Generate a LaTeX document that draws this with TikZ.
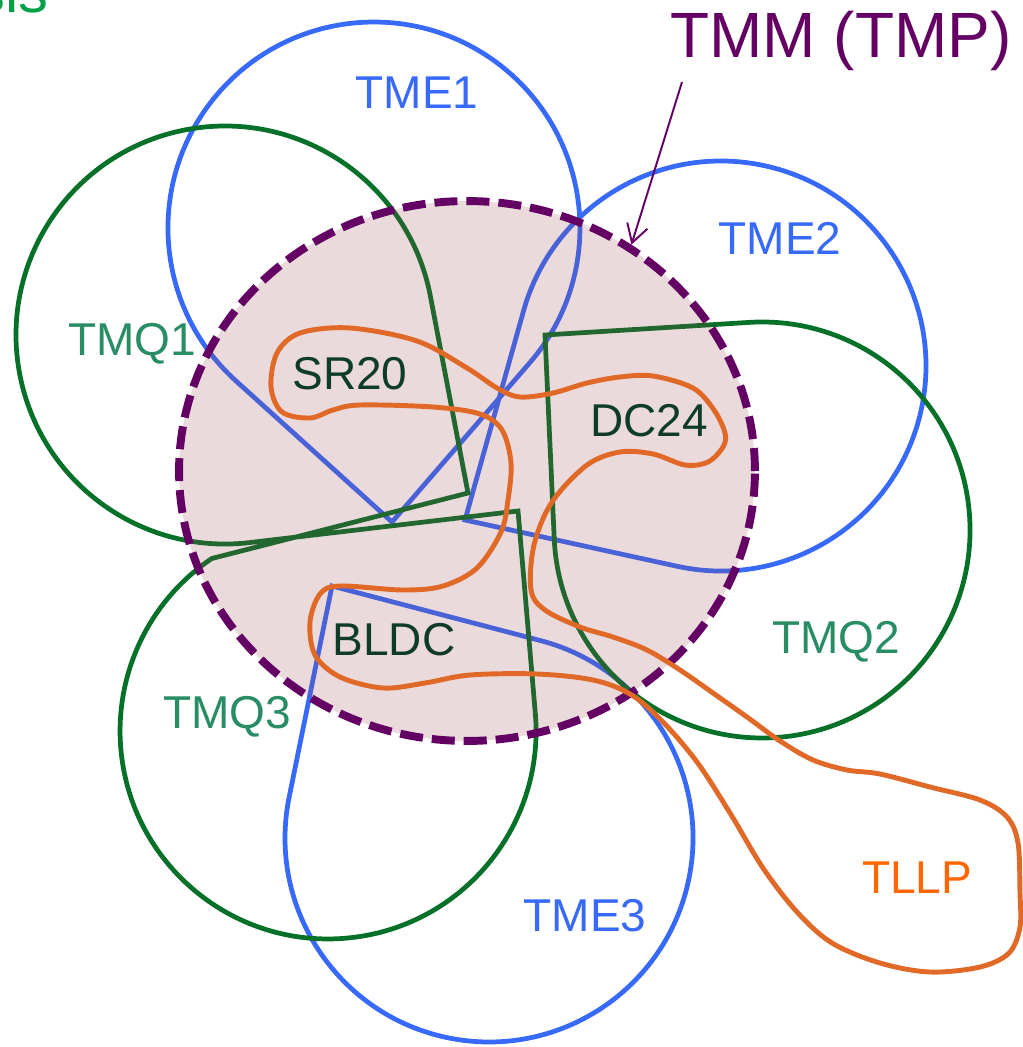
\documentclass[tikz,border=0pt]{standalone}
\usepackage{fontspec}
\setmainfont{Liberation Sans}
\usetikzlibrary{shapes.geometric,arrows.meta}

\definecolor{tmeblue}{RGB}{55,105,250}
\definecolor{tmqgreen}{RGB}{5,112,40}
\definecolor{tmqtext}{RGB}{40,140,100}
\definecolor{tllporange}{RGB}{225,105,40}
\definecolor{tllptext}{RGB}{255,102,0}
\definecolor{tmppurple}{RGB}{100,0,100}
\definecolor{tmpfill}{RGB}{150,70,75}
\definecolor{darklbl}{RGB}{15,60,40}
\definecolor{sisgreen}{RGB}{0,160,70}

\begin{document}
\begin{tikzpicture}[x=0.02cm,y=-0.02cm,
        tme/.style={draw=tmeblue,line width=2.7pt},
        tmq/.style={draw=tmqgreen,line width=2.7pt},
        lbl/.style={anchor=base,inner sep=0pt,font=\fontsize{26.2}{30}\selectfont},
        >={Straight Barb[length=0.36cm,width=0.42cm]}]
            \useasboundingbox (0,0) rectangle (1023,1047);

            \coordinate (E1) at (392,522);
            \coordinate (E2) at (465,520);
            \coordinate (E3) at (332,586);
            \coordinate (Q1) at (468,493);
            \coordinate (Q2) at (545,335);
            \coordinate (Q3) at (518,511);
            \coordinate (TMMtail) at (682,82);

            % blue drops
            \draw[tme] (E1) -- (235.8,380.8) arc[start angle=132.12,end angle=400.88,radius=206] -- cycle;
            \draw[tme] (E2) -- (677.3,566.3) arc[start angle=102.30,end angle=-164.36,radius=205] -- cycle;
            \draw[tme] (E3) -- (289.1,797.4) arc[start angle=191.47,end angle=-75.33,radius=204] -- cycle;

            % green drops
            \draw[tmq] (Q1) -- (430.3,295.8) arc[start angle=-10.82,end angle=-276.70,radius=209] -- (Q3)
                -- (535.3,713.3) arc[start angle=-4.87,end angle=236,radius=208] -- cycle;
            \draw[tmq] (Q2) -- (749.2,322.4) arc[start angle=-93.54,end angle=177.42,radius=208] -- cycle;

            \node[ellipse,draw=tmppurple,line width=4.5pt,dash pattern=on 0.46cm off 0.18cm,
                fill=tmpfill,fill opacity=0.2,minimum width=11.52cm,minimum height=10.8cm,inner sep=0pt] (TMP) at (467,471) {};

            % orange loop
            \draw[tllporange,line width=2.8pt] plot[smooth cycle,tension=0.55] coordinates {
                (553,393) (520,397) (497,388) (467,368) (417,341) (350,328) (300,333) (277,353)
                (271,387) (282,412) (310,418) (333,410) (360,405) (433,407) (480,414) (502,430)
                (511,463) (508,500) (501,532) (477,568) (443,586) (403,590) (340,586) (320,594)
                (310,622) (315,655) (340,677) (383,688) (425,683) (470,675) (537,674) (593,680)
                (630,694) (662,721) (697,762) (730,813) (763,868) (797,912) (832,943) (880,963)
                (930,972) (980,967) (1009,953) (1020,927) (1020,893) (1018,843) (1007,817) (980,800)
                (930,787) (880,774) (847,770) (813,760) (780,741) (747,717) (713,693) (680,670)
                (647,650) (613,637) (580,627) (545,610) (531,590) (534,545) (552,502) (587,465)
                (620,452) (653,454) (685,465) (708,462) (723,447) (725,433) (714,410) (693,388)
                (653,376) (620,377) (587,383)};

            \node[lbl,text=tmeblue] (TME1) at (417,109) {TME1};
            \node[lbl,text=tmeblue] (TME2) at (780,255) {TME2};
            \node[lbl,text=tmeblue] (TME3) at (585,931) {TME3};
            \node[lbl,text=tmqtext] (TMQ1) at (132,355) {TMQ1};
            \node[lbl,text=tmqtext] (TMQ2) at (836,653) {TMQ2};
            \node[lbl,text=tmqtext] (TMQ3) at (227,728) {TMQ3};
            \node[lbl,text=tllptext] (TLLP) at (917,893) {TLLP};
            \node[lbl,text=darklbl] (SR20) at (350,389) {SR20};
            \node[lbl,text=darklbl] (DC24) at (649,436) {DC24};
            \node[lbl,text=darklbl] (BLDC) at (394,655) {BLDC};
            \node[lbl,text=tmppurple,font=\fontsize{36.4}{42}\selectfont] (TMM) at (841,58) {TMM (TMP)};
            \node[lbl,anchor=base east,text=sisgreen,font=\fontsize{34}{40}\selectfont] (sis) at (49,13) {sis};

            \draw[->,tmppurple,line width=1.1pt] (TMMtail) -- (TMP.54);
        \end{tikzpicture}
\end{document}
